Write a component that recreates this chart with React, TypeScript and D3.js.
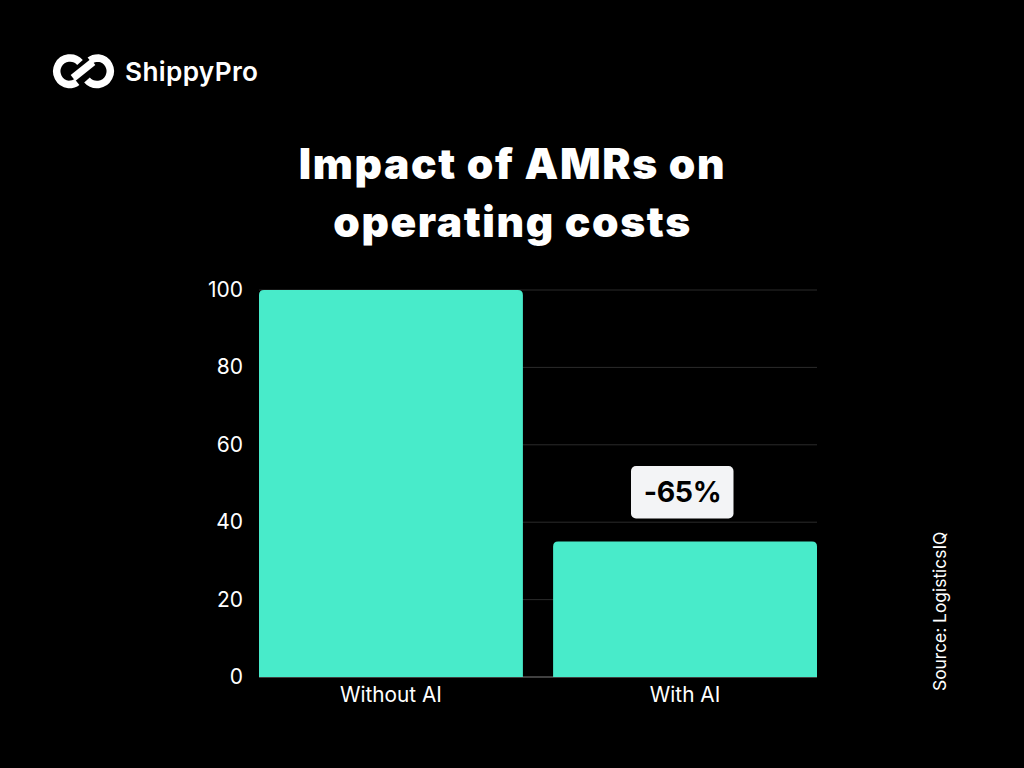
import React from "react";
import * as d3 from "d3";

const categories = ["Without AI", "With AI"];
const values = [100, 35];
const yTicks = [0, 20, 40, 60, 80, 100];
const titleLines = ["Impact of AMRs on", "operating costs"];
const brand = "ShippyPro";
const badge = "-65%";
const source = "Source: LogisticsIQ";

const W = 1024, H = 768;
const teal = "#48EBCA";
const font = "Inter, Roboto, sans-serif";

export default function App() {
  const x = d3.scaleBand<string>().domain(categories).range([259, 817]).paddingInner(0.1027).paddingOuter(0);
  const y = d3.scaleLinear().domain([0, 100]).range([677, 290]);
  const r = 5;
  const barPath = (c: string, v: number) => {
    const x0 = x(c)!, x1 = x0 + x.bandwidth(), yt = y(v), yb = y(0);
    return `M${x0},${yb}V${yt + r}Q${x0},${yt} ${x0 + r},${yt}H${x1 - r}Q${x1},${yt} ${x1},${yt + r}V${yb}Z`;
  };
  return (
    <svg width={W} height={H} viewBox={`0 0 ${W} ${H}`} style={{ position: "fixed", left: 0, top: 0, background: "#000", display: "block" }}>
      <rect width={W} height={H} fill="#000" />
      {/* logo */}
      <g fill="none" stroke="#fff" strokeWidth={7.5} strokeLinecap="butt">
        <path d="M80,62.5 A13.3,13.3 0 1 0 68.5,84.5 Q74,84.5 77,82" />
        <path d="M87,80 A13.3,13.3 0 1 0 98.5,58 Q93,58 90,60.5" />
        <path d="M73,78 L93,62" />
      </g>
      <text x={125} y={81} fill="#fff" fontFamily={font} fontWeight={600} fontSize={26.2} letterSpacing={0.35}>{brand}</text>

      {/* title */}
      {titleLines.map((t, i) => (
        <text key={t} x={512.5} y={179 + i * 58} textAnchor="middle" fill="#fff" fontFamily={font} fontWeight={900} fontSize={42.5} letterSpacing={1.6}>{t}</text>
      ))}

      {/* grid */}
      {yTicks.filter(t => t > 0).map(t => (
        <line key={t} x1={x.range()[0]} x2={x.range()[1]} y1={y(t)} y2={y(t)} stroke="#2b2b2b" strokeWidth={1} />
      ))}
      <line x1={259} x2={817} y1={y(0)} y2={y(0)} stroke="#808080" strokeWidth={1} />

      {/* bars */}
      {categories.map((c, i) => <path key={c} d={barPath(c, values[i])} fill={teal} />)}

      {/* y labels */}
      {yTicks.map(t => (
        <text key={t} x={243} y={y(t) + 7} textAnchor="end" fill="#fff" fontFamily={font} fontSize={21}>{t}</text>
      ))}
      {/* x labels */}
      {categories.map(c => (
        <text key={c} x={x(c)! + x.bandwidth() / 2} y={702} textAnchor="middle" fill="#fff" fontFamily={font} fontSize={20.8}>{c}</text>
      ))}

      {/* badge */}
      <rect x={631} y={466} width={102.5} height={52.5} rx={5} fill="#F3F4F6" />
      <text x={682.5} y={502} textAnchor="middle" fill="#000" fontFamily={font} fontWeight={700} fontSize={28.5} letterSpacing={-0.4}>{badge}</text>

      {/* source */}
      <text transform="translate(946,691) rotate(-90)" fill="#fff" fontFamily={font} fontSize={17.4}>{source}</text>
    </svg>
  );
}
